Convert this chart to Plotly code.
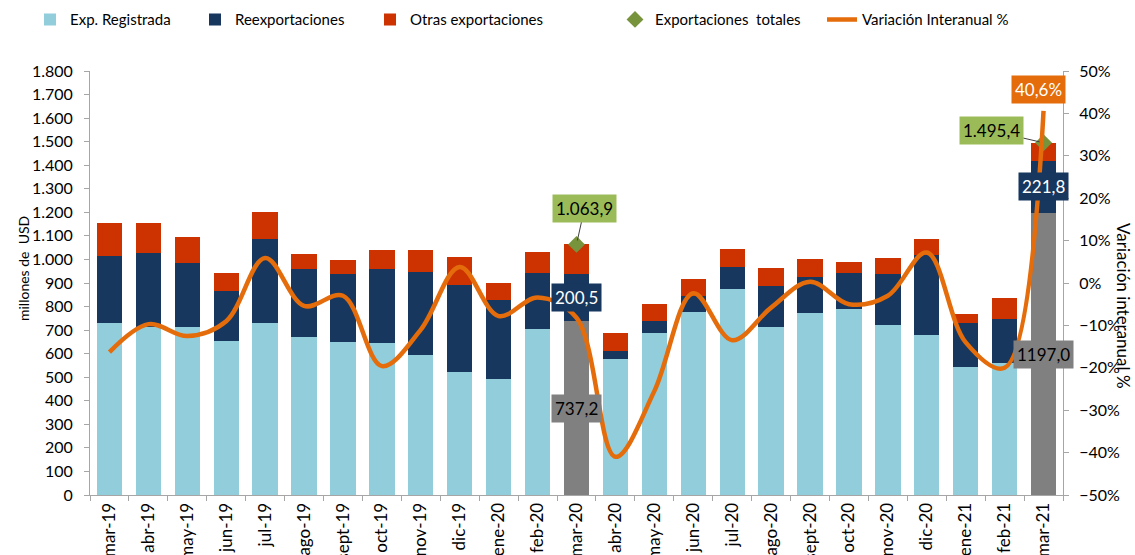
import plotly.graph_objects as go

months = ["mar-19", "abr-19", "may-19", "jun-19", "jul-19", "ago-19", "sept-19", "oct-19",
          "nov-19", "dic-19", "ene-20", "feb-20", "mar-20", "abr-20", "may-20", "jun-20",
          "jul-20", "ago-20", "sept-20", "oct-20", "nov-20", "dic-20", "ene-21", "feb-21", "mar-21"]

exp_registrada = [729, 714, 713, 654, 731, 671, 651, 647, 594, 521, 492, 703, 737.2,
                  577, 686, 778, 873, 714, 774, 788, 722, 679, 542, 560, 1197.0]
reexportaciones = [287, 315, 273, 213, 356, 287, 287, 312, 354, 370, 336, 238, 200.5,
                   36, 51, 68, 93, 173, 153, 156, 216, 340, 189, 187, 221.8]
otras_exportaciones = [140, 127, 108, 74, 116, 65, 58, 81, 92, 121, 70, 92, 126.2,
                       73, 72, 71, 77, 75, 73, 44, 69, 66, 37, 89, 76.6]
exportaciones_totales = [None] * 12 + [1063.9] + [None] * 11 + [1495.4]
variacion_interanual = [-16.3, -9.7, -12.5, -9.0, 5.9, -5.4, -3.0, -19.6, -11.0, 3.8, -7.8, -3.4,
                        -8.2, -41.0, -25.5, -2.4, -13.5, -5.8, 0.3, -5.0, -3.0, 7.2, -14.0, -20.0, 40.6]

highlight = {"mar-20", "mar-21"}

C_LIGHT = "#92CDDC"
C_NAVY = "#17375E"
C_RED = "#CC3300"
C_GRAY = "#808080"
C_GREEN = "#77933C"
C_GREEN_LBL = "#9BBB59"
C_ORANGE = "#E46C0A"
FONT = "Lato, 'Open Sans', sans-serif"


def fmt_es(v):
    s = "{:,.1f}".format(v)
    return s.replace(",", "X").replace(".", ",").replace("X", ".")


fig = go.Figure()
fig.add_trace(go.Bar(
    x=months, y=exp_registrada, name="Exp. Registrada", legend="legend",
    marker=dict(color=[C_GRAY if m in highlight else C_LIGHT for m in months], line_width=0),
))
fig.add_trace(go.Bar(x=months, y=reexportaciones, name="Reexportaciones", legend="legend2",
                     marker=dict(color=C_NAVY, line_width=0)))
fig.add_trace(go.Bar(x=months, y=otras_exportaciones, name="Otras exportaciones", legend="legend3",
                     marker=dict(color=C_RED, line_width=0)))
fig.add_trace(go.Scatter(x=months, y=exportaciones_totales, name="Exportaciones  totales",
                         legend="legend4", mode="markers",
                         marker=dict(symbol="diamond", size=13, color=C_GREEN)))
fig.add_trace(go.Scatter(x=months, y=variacion_interanual, name="Variación Interanual %",
                         legend="legend5", mode="lines", yaxis="y2",
                         line=dict(color=C_ORANGE, width=4.5, shape="spline", smoothing=1.0)))

annotations = []
lbl_font = dict(family=FONT, size=17)
for i, m in enumerate(months):
    if m not in highlight:
        continue
    base = exp_registrada[i]
    reex = reexportaciones[i]
    total = exportaciones_totales[i]
    annotations.append(dict(
        x=m, y=base / 2, xref="x", yref="y", showarrow=False,
        text=f"{base:.1f}".replace(".", ","),
        bgcolor=C_GRAY, font=dict(lbl_font, color="#000000"), borderpad=3))
    annotations.append(dict(
        x=m, y=base + reex / 2, xref="x", yref="y", showarrow=False,
        text=f"{reex:.1f}".replace(".", ","),
        bgcolor=C_NAVY, font=dict(lbl_font, color="#FFFFFF"), borderpad=3))
    if m == "mar-20":
        ax, ay = 8, -36
    else:
        ax, ay = -52, -12
    annotations.append(dict(
        x=m, y=total, xref="x", yref="y", showarrow=True, arrowhead=0, arrowwidth=1,
        arrowcolor="#404040", ax=ax, ay=ay, standoff=4,
        text=fmt_es(total), bgcolor=C_GREEN_LBL, font=dict(lbl_font, color="#000000"), borderpad=3))

annotations.append(dict(
    x="mar-21", y=variacion_interanual[-1], xref="x", yref="y2", showarrow=False, yshift=21,
    xshift=-5, text=f"{variacion_interanual[-1]:.1f}%".replace(".", ","),
    bgcolor=C_ORANGE, font=dict(lbl_font, color="#FFFFFF"), borderpad=3))

annotations.append(dict(x=-0.069, y=0.535, xref="paper", yref="paper", showarrow=False,
                        xanchor="center", yanchor="middle",
                        text="millones de  USD", textangle=-90,
                        font=dict(family=FONT, size=14, color="#000000")))
annotations.append(dict(x=1.0627, y=0.448, xref="paper", yref="paper", showarrow=False,
                        xanchor="center", yanchor="middle",
                        text="Variación interanual %", textangle=90,
                        font=dict(family=FONT, size=17, color="#000000")))

axis_common = dict(showline=True, linecolor="#A6A6A6", linewidth=1, ticks="outside",
                   ticklen=5, tickcolor="#A6A6A6", showgrid=False, zeroline=False)

leg_common = dict(orientation="h", xanchor="left", y=1.160, yanchor="top",
                  font=dict(family=FONT, size=15, color="#000000"),
                  itemwidth=30, bgcolor="rgba(0,0,0,0)")
leg_x = [30, 195, 370, 615, 822]
plot_l, plot_w = 90, 973
legends = {}
for k, px in enumerate(leg_x):
    key = "legend" if k == 0 else f"legend{k + 1}"
    legends[key] = dict(leg_common, x=(px - plot_l) / plot_w)

fig.update_layout(
    width=1135, height=555,
    margin=dict(l=90, r=72, t=71, b=60, autoexpand=False),
    barmode="stack", bargap=0.35,
    separators=",.",
    plot_bgcolor="#FFFFFF", paper_bgcolor="#FFFFFF",
    font=dict(family=FONT, size=15, color="#000000"),
    showlegend=True,
    xaxis=dict(type="category", tickson="boundaries", tickangle=-90, automargin=False,
               range=[-0.5, len(months) - 0.5],
               tickfont=dict(family=FONT, size=17, color="#000000"), **axis_common),
    yaxis=dict(range=[0, 1800], dtick=100, tickformat=",d", automargin=False,
               ticklabelstandoff=8,
               tickfont=dict(family=FONT, size=16, color="#000000"), **axis_common),
    yaxis2=dict(range=[-50, 50], dtick=10, ticksuffix="%", side="right", overlaying="y",
                automargin=False, ticklabelstandoff=7,
                tickfont=dict(family=FONT, size=16, color="#000000"), **axis_common),
    annotations=annotations,
    **legends,
)

fig.write_html("out.html", config={"displayModeBar": False},
               post_script="document.body.style.margin='0';")
